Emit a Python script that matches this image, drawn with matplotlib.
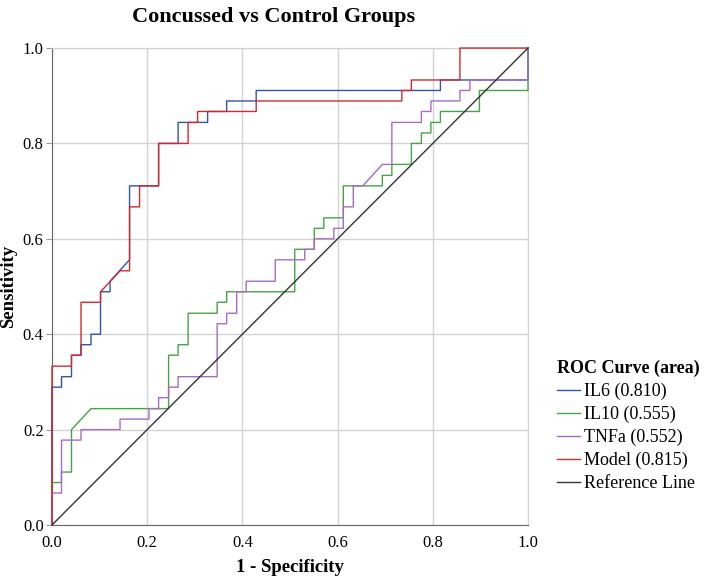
import matplotlib.pyplot as plt
import numpy as np

plt.rcParams['font.family'] = ['Liberation Serif', 'DejaVu Serif']

# ROC coordinates (1 - specificity, sensitivity)
il6_fpr = [0, 0, 0.020, 0.020, 0.041, 0.041, 0.061, 0.061, 0.082, 0.082, 0.102, 0.102,
           0.122, 0.122, 0.163, 0.163, 0.224, 0.224, 0.265, 0.265, 0.327, 0.327, 0.367,
           0.367, 0.429, 0.429, 0.816, 0.816, 1.0, 1.0]
il6_tpr = [0, 0.289, 0.289, 0.311, 0.311, 0.356, 0.356, 0.378, 0.378, 0.400, 0.400, 0.489,
           0.489, 0.511, 0.556, 0.711, 0.711, 0.800, 0.800, 0.844, 0.844, 0.867, 0.867,
           0.889, 0.889, 0.911, 0.911, 0.933, 0.933, 1.0]

il10_fpr = [0, 0, 0.020, 0.020, 0.041, 0.041, 0.082, 0.245, 0.245, 0.265, 0.265, 0.286,
            0.286, 0.347, 0.347, 0.367, 0.367, 0.510, 0.510, 0.551, 0.551, 0.571, 0.571,
            0.612, 0.612, 0.694, 0.694, 0.714, 0.714, 0.755, 0.755, 0.776, 0.776, 0.796,
            0.796, 0.816, 0.816, 0.898, 0.898, 1.0, 1.0]
il10_tpr = [0, 0.089, 0.089, 0.111, 0.111, 0.200, 0.244, 0.244, 0.356, 0.356, 0.378, 0.378,
            0.444, 0.444, 0.467, 0.467, 0.489, 0.489, 0.578, 0.578, 0.622, 0.622, 0.644,
            0.644, 0.711, 0.711, 0.733, 0.733, 0.756, 0.756, 0.800, 0.800, 0.822, 0.822,
            0.844, 0.844, 0.867, 0.867, 0.911, 0.911, 1.0]

tnfa_fpr = [0, 0, 0.020, 0.020, 0.061, 0.061, 0.143, 0.143, 0.204, 0.204, 0.224, 0.224,
            0.245, 0.245, 0.265, 0.265, 0.347, 0.347, 0.367, 0.367, 0.388, 0.388, 0.408,
            0.408, 0.469, 0.469, 0.531, 0.531, 0.551, 0.551, 0.592, 0.592, 0.612, 0.612,
            0.633, 0.633, 0.653, 0.694, 0.714, 0.714, 0.776, 0.776, 0.796, 0.796, 0.857,
            0.857, 0.878, 0.878, 1.0, 1.0]
tnfa_tpr = [0, 0.067, 0.067, 0.178, 0.178, 0.200, 0.200, 0.222, 0.222, 0.244, 0.244, 0.267,
            0.267, 0.289, 0.289, 0.311, 0.311, 0.422, 0.422, 0.444, 0.444, 0.489, 0.489,
            0.511, 0.511, 0.556, 0.556, 0.578, 0.578, 0.600, 0.600, 0.622, 0.622, 0.667,
            0.667, 0.711, 0.711, 0.756, 0.756, 0.844, 0.844, 0.867, 0.867, 0.889, 0.889,
            0.911, 0.911, 0.933, 0.933, 1.0]

model_fpr = [0, 0, 0.041, 0.041, 0.061, 0.061, 0.102, 0.102, 0.143, 0.163, 0.163, 0.184,
             0.184, 0.224, 0.224, 0.286, 0.286, 0.306, 0.306, 0.429, 0.429, 0.735, 0.735,
             0.755, 0.755, 0.857, 0.857, 1.0]
model_tpr = [0, 0.333, 0.333, 0.356, 0.356, 0.467, 0.467, 0.489, 0.533, 0.533, 0.667, 0.667,
             0.711, 0.711, 0.800, 0.800, 0.844, 0.844, 0.867, 0.867, 0.889, 0.889, 0.911,
             0.911, 0.933, 0.933, 1.0, 1.0]

labels = ['IL6 (0.810)', 'IL10 (0.555)', 'TNFa (0.552)', 'Model (0.815)', 'Reference Line']
ticks = [0.0, 0.2, 0.4, 0.6, 0.8, 1.0]

fig = plt.figure(figsize=(7.09, 5.8), dpi=100)
ax = fig.add_axes([0.0733, 0.0948, 0.6714, 0.8224])

ax.plot(il6_fpr, il6_tpr, color='#2f55a8', lw=1.0, label=labels[0], clip_on=False, zorder=3)
ax.plot(il10_fpr, il10_tpr, color='#45a445', lw=1.0, label=labels[1], clip_on=False, zorder=3)
ax.plot(tnfa_fpr, tnfa_tpr, color='#a46cc4', lw=1.0, label=labels[2], clip_on=False, zorder=3)
ax.plot(model_fpr, model_tpr, color='#cf2b2b', lw=1.0, label=labels[3], clip_on=False, zorder=3)
ax.plot([0, 1], [0, 1], color='#333333', lw=1.0, label=labels[4], clip_on=False, zorder=3)

ax.set_xlim(0, 1)
ax.set_ylim(0, 1)
ax.set_xticks(ticks)
ax.set_yticks(ticks)
ax.set_xticklabels([f'{t:.1f}' for t in ticks])
ax.set_yticklabels([f'{t:.1f}' for t in ticks])
ax.tick_params(axis='x', length=0, pad=7, labelsize=12)
ax.tick_params(axis='y', length=4, color='#999999', pad=2, labelsize=12)
ax.grid(True, color='#d2d2d2', lw=1.0)
ax.set_axisbelow(True)
for side in ['top', 'right']:
    ax.spines[side].set_color('#d2d2d2')
for side in ['left', 'bottom']:
    ax.spines[side].set_color('#666666')

ax.set_xlabel('1 - Specificity', fontsize=13.5, fontweight='bold', labelpad=6)
ax.set_ylabel('Sensitivity', fontsize=13.5, fontweight='bold', labelpad=4)
ax.set_title('Concussed vs Control Groups', fontsize=16, fontweight='bold', pad=19, x=0.465)

leg = fig.legend(loc='upper left', bbox_to_anchor=(0.785, 0.38), frameon=False,
                 fontsize=13, title='ROC Curve (area)', handlelength=1.3,
                 handletextpad=0.2, labelspacing=0.32, borderaxespad=0, borderpad=0)
leg.get_title().set_fontweight('bold')
leg.get_title().set_fontsize(13)
leg._legend_box.align = 'left'

fig.savefig('out.png', dpi=100)
